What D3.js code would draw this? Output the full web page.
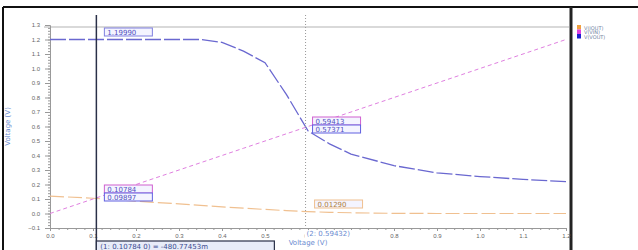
<!DOCTYPE html>
<html>
<head>
<meta charset="utf-8">
<script src="https://cdn.jsdelivr.net/npm/d3@7"></script>
<style>
  body { margin: 0; background: #fff; }
  svg { display: block; font-family: "DejaVu Sans", sans-serif; }
  .tick text { fill: #666; font-size: 6px; }
  .tick line, .domain { stroke: #999; }
</style>
</head>
<body>
<svg width="638" height="250"></svg>
<script>
(function() {
  'use strict';

  // sweep voltage and node voltages
  const sweep = [0, 0.1, 0.2, 0.3, 0.35, 0.4, 0.45, 0.5, 0.55, 0.6, 0.65, 0.7, 0.8, 0.9, 1.0, 1.1, 1.2];
  const vout = [1.2, 1.2, 1.2, 1.2, 1.2, 1.18, 1.12, 1.04, 0.82, 0.57, 0.48, 0.41, 0.33, 0.28, 0.255, 0.235, 0.22];
  const vin = [0, 0.1, 0.2, 0.3, 0.35, 0.4, 0.45, 0.5, 0.55, 0.6, 0.65, 0.7, 0.8, 0.9, 1.0, 1.1, 1.2];
  const iout = [0.12, 0.105, 0.085, 0.066, 0.056, 0.046, 0.037, 0.028, 0.02, 0.013, 0.008, 0.005, 0.001, 0, 0, 0, 0];

  const xTicks = [0, 0.1, 0.2, 0.3, 0.4, 0.5, 0.6, 0.7, 0.8, 0.9, 1.0, 1.1, 1.2];
  const yTicks = [-0.1, 0, 0.1, 0.2, 0.3, 0.4, 0.5, 0.6, 0.7, 0.8, 0.9, 1.0, 1.1, 1.2, 1.3];

  const legendNames = ['V(IOUT)', 'V(VIN)', 'V(VOUT)'];
  const legendColors = ['#f0a040', '#e040e0', '#2020d0'];

  const cursor1 = 0.10784;
  const cursor2 = 0.59432;
  const cursor1Labels = ['1.19990', '0.10784', '0.09897'];
  const cursor2Labels = ['0.59413', '0.57371', '0.01290'];
  const cursor1Bottom = '(1: 0.10784 0) = -480.77453m';
  const cursor2Bottom = '(2: 0.59432)';

  const svg = d3.select('svg');

  const x = d3.scaleLinear().domain([0, 1.2]).range([50, 566]);
  const y = d3.scaleLinear().domain([-0.1, 1.3]).range([228, 25]);

  // frame
  svg.append('line').attr('x1', 3).attr('x2', 638).attr('y1', 7).attr('y2', 7)
      .attr('stroke', '#111').attr('stroke-width', 2);
  svg.append('line').attr('x1', 3).attr('x2', 3).attr('y1', 7).attr('y2', 250)
      .attr('stroke', '#111').attr('stroke-width', 2);
  svg.append('line').attr('x1', 571).attr('x2', 571).attr('y1', 7).attr('y2', 250)
      .attr('stroke', '#222').attr('stroke-width', 3);

  // top grid line
  svg.append('line').attr('x1', 44).attr('x2', 569)
      .attr('y1', y(1.3) + 2).attr('y2', y(1.3) + 2)
      .attr('stroke', '#ccc').attr('stroke-width', 1.5);

  // axes
  svg.append('g')
      .attr('transform', 'translate(0,' + y(-0.1) + ')')
      .call(d3.axisBottom(x).tickValues(xTicks).tickSize(3).tickPadding(3)
          .tickFormat(d3.format('.1f')));
  svg.append('g')
      .attr('transform', 'translate(0,' + y(-0.1) + ')')
      .call(d3.axisBottom(x).ticks(60).tickSize(2).tickFormat(''))
      .call((g) => g.select('.domain').remove());
  svg.append('g')
      .attr('transform', 'translate(' + x(0) + ',0)')
      .call(d3.axisLeft(y).tickValues(yTicks).tickSize(5).tickPadding(5)
          .tickFormat(d3.format('.1f')));
  svg.append('g')
      .attr('transform', 'translate(' + x(0) + ',0)')
      .call(d3.axisLeft(y).ticks(70).tickSize(2).tickFormat(''))
      .call((g) => g.select('.domain').remove());

  svg.append('text')
      .attr('transform', 'translate(10,' + y(0.6) + ') rotate(-90)')
      .attr('text-anchor', 'middle')
      .attr('fill', '#6a8ad0')
      .attr('font-size', 7)
      .text('Voltage (V)');
  svg.append('text')
      .attr('x', 308).attr('y', 245)
      .attr('text-anchor', 'middle')
      .attr('fill', '#6a8ad0')
      .attr('font-size', 7)
      .text('Voltage (V)');

  // series
  const line = (vals) => d3.line()
      .x((d, i) => x(sweep[i]))
      .y((d) => y(d))(vals);

  svg.append('path').attr('d', line(iout))
      .attr('fill', 'none').attr('stroke', '#f0c090')
      .attr('stroke-width', 1.2).attr('stroke-dasharray', '14,4');
  svg.append('path').attr('d', line(vin))
      .attr('fill', 'none').attr('stroke', '#e080e0')
      .attr('stroke-width', 1).attr('stroke-dasharray', '4,3');
  svg.append('path').attr('d', line(vout))
      .attr('fill', 'none').attr('stroke', '#6a68d0')
      .attr('stroke-width', 1.3).attr('stroke-dasharray', '16,3');

  // cursors
  svg.append('line').attr('x1', x(cursor1)).attr('x2', x(cursor1))
      .attr('y1', 15).attr('y2', 250)
      .attr('stroke', '#2a3048').attr('stroke-width', 1.5);
  svg.append('line').attr('x1', x(cursor2)).attr('x2', x(cursor2))
      .attr('y1', 15).attr('y2', y(-0.1))
      .attr('stroke', '#999').attr('stroke-width', 1).attr('stroke-dasharray', '1,2');

  const tag = (px, py, txt, border, color) => {
    svg.append('rect').attr('x', px).attr('y', py).attr('width', 48).attr('height', 8)
        .attr('fill', '#f4f4ff').attr('stroke', border).attr('stroke-width', 1);
    svg.append('text').attr('x', px + 3).attr('y', py + 6.5)
        .attr('font-size', 7).attr('fill', color).text(txt);
  };

  tag(x(cursor1) + 8, 28, cursor1Labels[0], '#8080e0', '#5050c0');
  tag(x(cursor1) + 8, 185, cursor1Labels[1], '#d060d0', '#5050c0');
  tag(x(cursor1) + 8, 193, cursor1Labels[2], '#6060e0', '#5050c0');
  tag(x(cursor2) + 7, 117, cursor2Labels[0], '#d060d0', '#5050c0');
  tag(x(cursor2) + 7, 125, cursor2Labels[1], '#6060e0', '#5050c0');
  tag(x(cursor2) + 9, 200, cursor2Labels[2], '#f0c090', '#b08040');

  svg.append('rect').attr('x', x(cursor1)).attr('y', 241).attr('width', 178).attr('height', 10)
      .attr('fill', '#e8ecf8').attr('stroke', '#2a3048').attr('stroke-width', 1.2);
  svg.append('text').attr('x', x(cursor1) + 4).attr('y', 249)
      .attr('font-size', 7).attr('fill', '#3a4a90').text(cursor1Bottom);

  // the second cursor readout sits over the 0.6 / 0.7 tick labels, as in the original
  svg.append('rect').attr('x', x(cursor2) - 1).attr('y', 230).attr('width', 54).attr('height', 8)
      .attr('fill', '#fff');
  svg.append('text').attr('x', x(cursor2) + 1).attr('y', 236)
      .attr('font-size', 7).attr('fill', '#6a8ad0').text(cursor2Bottom);

  // legend
  const leg = svg.append('g').attr('transform', 'translate(577,25)');
  legendNames.forEach((name, i) => {
    leg.append('rect').attr('x', 0).attr('y', i * 4.5).attr('width', 4).attr('height', 4.5)
        .attr('fill', legendColors[i]);
    leg.append('text').attr('x', 7).attr('y', i * 4.5 + 4.5)
        .attr('font-size', 5).attr('fill', '#7080a0').text(name);
  });
})();
</script>
</body>
</html>
